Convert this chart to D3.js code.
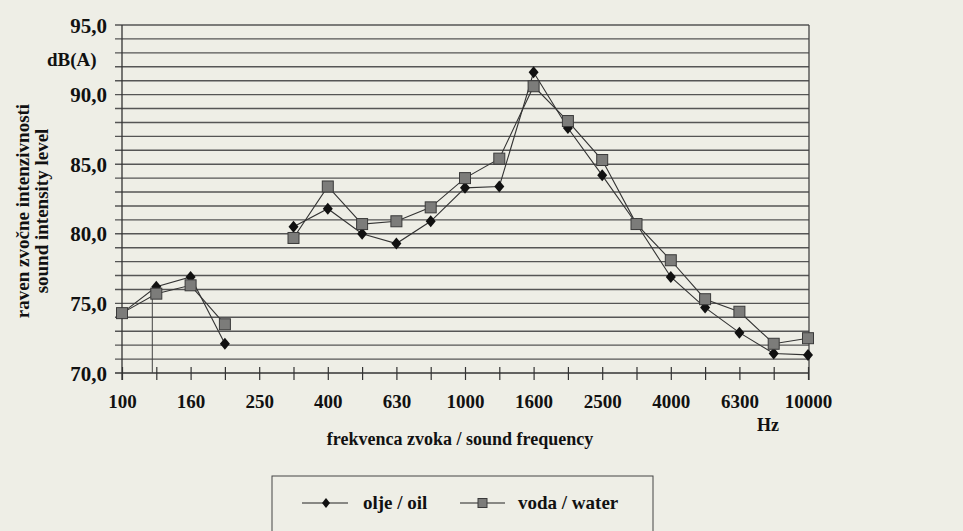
<!DOCTYPE html>
<html>
<head>
<meta charset="utf-8">
<script src="https://cdn.jsdelivr.net/npm/d3@7"></script>
<style>
  body { margin: 0; background: #eeeee6; }
  text { font-family: "Liberation Serif", "Times New Roman", serif; font-weight: bold; fill: #111; }
</style>
</head>
<body>
<div id="viz-container"></div>
<script>
// frequencies (categories) and the two series, dB(A)
let freqs = ["100", "125", "160", "200", "250", "315", "400", "500", "630", "800", "1000",
  "1250", "1600", "2000", "2500", "3150", "4000", "5000", "6300", "8000", "10000"];
let oil = [74.3, 76.2, 76.9, 72.1, null, 80.5, 81.8, 80.0, 79.3, 80.9, 83.3,
  83.4, 91.6, 87.6, 84.2, 80.7, 76.9, 74.7, 72.9, 71.4, 71.3];
let water = [74.3, 75.7, 76.3, 73.5, null, 79.7, 83.4, 80.7, 80.9, 81.9, 84.0,
  85.4, 90.6, 88.1, 85.3, 80.7, 78.1, 75.3, 74.4, 72.1, 72.5];
let xLabels = ["100", "160", "250", "400", "630", "1000", "1600", "2500", "4000", "6300", "10000"];
let yLabels = [70, 75, 80, 85, 90, 95];

let viz = d3.select("#viz-container")
  .append("svg")
    .attr("width", 963)
    .attr("height", 531)
;

let x = d3.scalePoint().domain(freqs).range([122, 808]);
let y = d3.scaleLinear().domain([70, 95]).range([373, 25]);

// horizontal grid, one line per dB
viz.append("g").selectAll("line")
  .data(d3.range(70, 96))
  .join("line")
    .attr("x1", 115)
    .attr("x2", x("10000") + 1)
    .attr("y1", d => y(d))
    .attr("y2", d => y(d))
    .attr("stroke", d => d == 70 ? "#333" : "#555")
    .attr("stroke-width", d => d == 70 ? 1.4 : 1.4)
;

// left axis line and right border
viz.append("line")
  .attr("x1", 122).attr("x2", 122)
  .attr("y1", y(95)).attr("y2", y(70) + 7)
  .attr("stroke", "#333").attr("stroke-width", 1.3);
viz.append("line")
  .attr("x1", x("10000") + 1).attr("x2", x("10000") + 1)
  .attr("y1", y(95)).attr("y2", y(70) + 7)
  .attr("stroke", "#444").attr("stroke-width", 1.3);

// y labels
let yAxis = d3.axisLeft(y)
  .tickValues(yLabels)
  .tickSize(0)
  .tickPadding(0)
  .tickFormat(d => d3.format(".1f")(d).replace(".", ","));
viz.append("g")
  .attr("transform", "translate(107,0)")
  .call(yAxis)
  .call(g => g.select(".domain").remove())
  .selectAll("text")
    .style("font-size", "21px")
    .attr("dy", "0.34em")
;

// x axis ticks crossing the axis line
let xAxis = d3.axisBottom(x)
  .tickSize(0)
  .tickFormat(d => xLabels.includes(d) ? d : "");
let xg = viz.append("g")
  .attr("transform", "translate(0," + y(70) + ")")
  .call(xAxis);
xg.select(".domain").remove();
xg.selectAll(".tick line")
  .attr("y1", -6).attr("y2", 7)
  .attr("stroke", "#333").attr("stroke-width", 1.2);
xg.selectAll(".tick text")
  .attr("y", 29)
  .attr("dy", "0.34em")
  .style("font-size", "19px");

// stray vertical line near 125 Hz
viz.append("line")
  .attr("x1", x("125") - 4).attr("x2", x("125") - 4)
  .attr("y1", y(oil[1])).attr("y2", y(70))
  .attr("stroke", "#444").attr("stroke-width", 1);

// series
let line = d3.line()
  .defined(d => d[1] != null)
  .x(d => x(d[0]))
  .y(d => y(d[1]));

let oilPts = freqs.map((f, i) => [f, oil[i]]);
let waterPts = freqs.map((f, i) => [f, water[i]]);

viz.append("path")
  .attr("d", line(oilPts))
  .attr("fill", "none").attr("stroke", "#333").attr("stroke-width", 1.1);
viz.append("path")
  .attr("d", line(waterPts))
  .attr("fill", "none").attr("stroke", "#333").attr("stroke-width", 1.1);

let diamond = "M0,-6L5,0L0,6L-5,0Z";
viz.append("g").selectAll("path")
  .data(oilPts.filter(d => d[1] != null))
  .join("path")
    .attr("d", diamond)
    .attr("transform", d => "translate(" + x(d[0]) + "," + y(d[1]) + ")")
    .attr("fill", "#111")
;
viz.append("g").selectAll("rect")
  .data(waterPts.filter(d => d[1] != null))
  .join("rect")
    .attr("x", d => x(d[0]) - 5.5)
    .attr("y", d => y(d[1]) - 5.5)
    .attr("width", 11)
    .attr("height", 11)
    .attr("fill", "#7c7c7a")
    .attr("stroke", "#3a3a3a")
    .attr("stroke-width", 1)
;

// axis titles
viz.append("text")
  .attr("x", 47).attr("y", 60).attr("dy", "0.34em")
  .style("font-size", "19px")
  .text("dB(A)");

let yTitle = viz.append("text")
  .attr("transform", "translate(23,211) rotate(-90)")
  .attr("text-anchor", "middle")
  .style("font-size", "19px");
yTitle.append("tspan").attr("x", 0).attr("dy", "0.34em").text("raven zvočne intenzivnosti");
yTitle.append("tspan").attr("x", 0).attr("dy", "1.0em").text("sound intensity level");

viz.append("text")
  .attr("x", 768).attr("y", 425).attr("dy", "0.34em")
  .attr("text-anchor", "middle")
  .style("font-size", "18px")
  .text("Hz");

viz.append("text")
  .attr("x", 460).attr("y", 439).attr("dy", "0.34em")
  .attr("text-anchor", "middle")
  .style("font-size", "18px")
  .text("frekvenca zvoka / sound frequency");

// legend
viz.append("rect")
  .attr("x", 272).attr("y", 476)
  .attr("width", 381).attr("height", 80)
  .attr("fill", "none").attr("stroke", "#444").attr("stroke-width", 1);

let legY = 503;
viz.append("line")
  .attr("x1", 302).attr("x2", 348).attr("y1", legY).attr("y2", legY)
  .attr("stroke", "#222").attr("stroke-width", 1.1);
viz.append("path")
  .attr("d", "M0,-5L4,0L0,5L-4,0Z")
  .attr("transform", "translate(326," + legY + ")")
  .attr("fill", "#111");
viz.append("text")
  .attr("x", 363).attr("y", legY).attr("dy", "0.34em")
  .style("font-size", "19px")
  .text("olje / oil");

viz.append("line")
  .attr("x1", 460).attr("x2", 505).attr("y1", legY).attr("y2", legY)
  .attr("stroke", "#222").attr("stroke-width", 1.1);
viz.append("rect")
  .attr("x", 478).attr("y", legY - 4.5)
  .attr("width", 9).attr("height", 9)
  .attr("fill", "#7c7c7a").attr("stroke", "#3a3a3a");
viz.append("text")
  .attr("x", 518).attr("y", legY).attr("dy", "0.34em")
  .style("font-size", "19px")
  .text("voda / water");
</script>
</body>
</html>
